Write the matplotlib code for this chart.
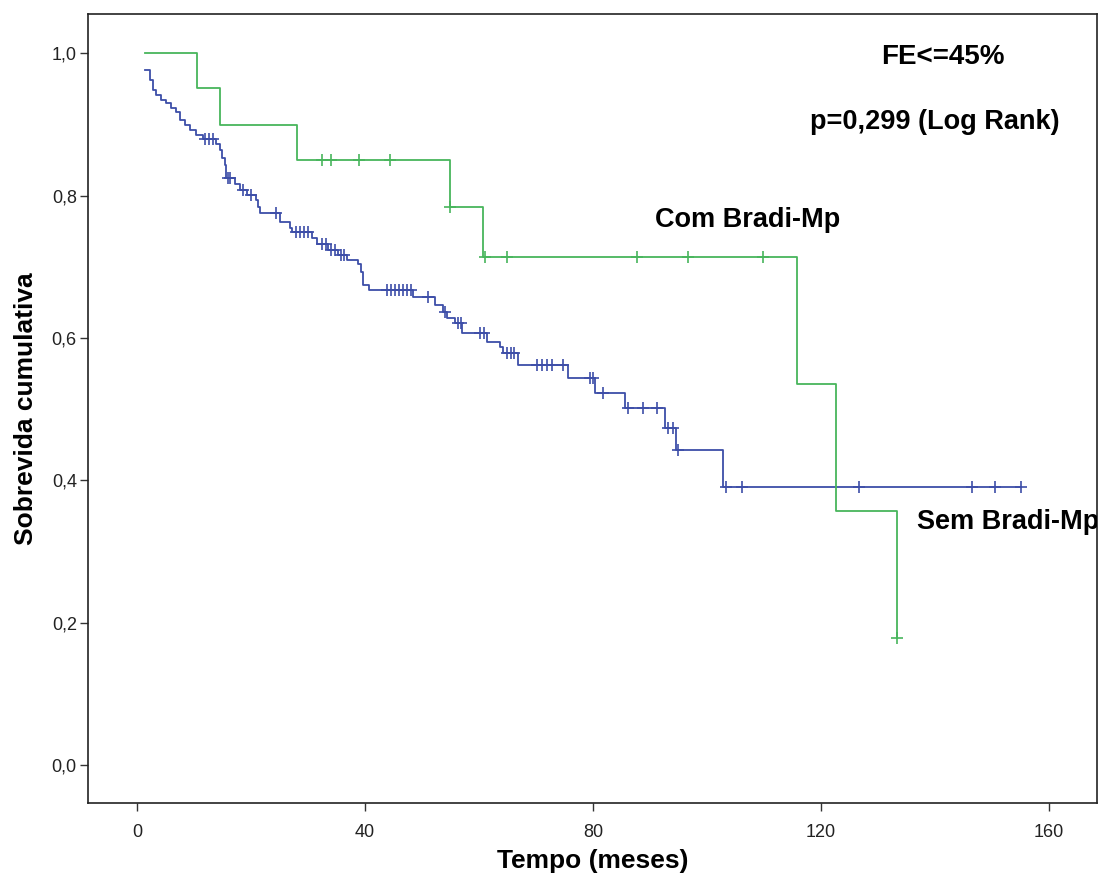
import numpy as np
import matplotlib
matplotlib.use("Agg")
import matplotlib.pyplot as plt
from matplotlib.ticker import FuncFormatter

plt.rcParams['font.family'] = ['Liberation Sans', 'DejaVu Sans']

# Sem Bradi-Mp (blue): step times (months) and survival after each step
sem_t = [1.40, 2.28, 2.81, 3.33, 4.21, 5.09, 5.96, 6.84, 7.54, 8.42, 9.30, 10.35,
         11.58, 13.86, 14.56, 14.91, 15.44, 15.61, 17.19, 18.07, 19.30, 20.88,
         21.23, 21.58, 25.09, 26.84, 27.19, 30.70, 31.58, 33.51, 35.26, 36.84,
         38.77, 39.30, 39.65, 40.70, 48.42, 52.28, 53.68, 54.39, 55.79, 57.02,
         61.40, 63.68, 64.21, 66.84, 75.61, 80.35, 85.61, 92.63, 94.56, 102.81]
sem_s = [0.977, 0.963, 0.949, 0.942, 0.935, 0.930, 0.923, 0.918, 0.907, 0.900,
         0.892, 0.885, 0.880, 0.873, 0.864, 0.853, 0.843, 0.825, 0.817, 0.808,
         0.801, 0.794, 0.784, 0.776, 0.763, 0.755, 0.749, 0.741, 0.732, 0.724,
         0.717, 0.710, 0.704, 0.693, 0.675, 0.668, 0.658, 0.647, 0.637, 0.628,
         0.621, 0.607, 0.594, 0.587, 0.579, 0.562, 0.544, 0.523, 0.502, 0.474,
         0.443, 0.391]
sem_cens = [11.93, 12.63, 13.33, 16.0, 16.32, 18.60, 20.0, 24.39, 27.89, 28.60,
            29.30, 30.0, 32.46, 33.16, 34.04, 34.74, 35.79, 36.32, 43.86, 44.56,
            45.26, 45.96, 46.67, 47.37, 48.07, 51.05, 54.04, 56.32, 56.84, 60.18,
            60.88, 64.91, 65.61, 66.14, 70.18, 71.05, 71.93, 72.81, 74.74, 79.47,
            80.0, 81.75, 86.14, 88.77, 91.23, 93.16, 94.04, 94.91, 103.33, 106.14,
            126.67, 146.49, 150.53, 155.09]

# Com Bradi-Mp (green)
com_t = [1.40, 10.53, 14.56, 28.07, 54.91, 60.70, 115.79, 122.63, 133.33]
com_s = [1.0, 0.951, 0.900, 0.850, 0.784, 0.714, 0.535, 0.357, 0.178]
com_cens = [32.46, 34.04, 38.95, 44.39, 54.91, 61.05, 64.91, 87.72, 96.67,
            109.82, 133.33]

blue = '#3d4ea8'
green = '#48b55c'


def km_curve(t, s, cens):
    t_end = max(t[-1], max(cens))
    xs = list(t) + [t_end]
    ys = list(s) + [s[-1]]
    idx = np.searchsorted(t, cens, side='right') - 1
    cy = np.array(s)[idx]
    return xs, ys, cy


fig = plt.figure(figsize=(11.01, 8.81), dpi=100)
ax = fig.add_axes([0.0799, 0.0885, 0.9165, 0.8956])

for t, s, cens, col in [(sem_t, sem_s, sem_cens, blue), (com_t, com_s, com_cens, green)]:
    xs, ys, cy = km_curve(t, s, cens)
    ax.plot(xs, ys, drawstyle='steps-post', color=col, lw=1.3)
    ax.plot(cens, cy, ls='none', marker='+', ms=8, mew=1.2, color=col)

ax.set_xlim(-8.6, 168.4)
ax.set_ylim(-0.0534, 1.0555)
ax.set_xticks([0, 40, 80, 120, 160])
ax.set_yticks([0.0, 0.2, 0.4, 0.6, 0.8, 1.0])
ax.yaxis.set_major_formatter(FuncFormatter(lambda v, p: f"{v:.1f}".replace('.', ',')))
ax.tick_params(direction='out', length=6, width=1, labelsize=13, color='#333333',
               labelcolor='#222222')
ax.tick_params(axis='x', pad=9)
ax.tick_params(axis='y', pad=2)
for sp in ax.spines.values():
    sp.set_linewidth(1.2)
    sp.set_color('#222222')

ax.set_xlabel('Tempo (meses)', fontsize=19, fontweight='bold', labelpad=6)
ax.set_ylabel('Sobrevida cumulativa', fontsize=19, fontweight='bold', labelpad=10)

ax.text(141.4, 0.995, 'FE<=45%', fontsize=20, fontweight='bold', ha='center', va='center')
ax.text(140.0, 0.904, 'p=0,299 (Log Rank)', fontsize=19.5, fontweight='bold',
        ha='center', va='center')
ax.text(90.9, 0.766, 'Com Bradi-Mp', fontsize=19.5, fontweight='bold', ha='left', va='center')
ax.text(136.8, 0.342, 'Sem Bradi-Mp', fontsize=19.5, fontweight='bold', ha='left', va='center',
        clip_on=True)

fig.savefig('out.png', dpi=100)
